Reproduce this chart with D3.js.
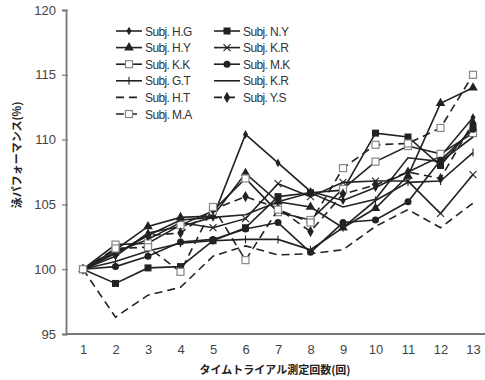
<!DOCTYPE html>
<html>
<head>
<meta charset="utf-8">
<script src="https://cdn.jsdelivr.net/npm/d3@7"></script>
<style>
  body { margin: 0; background: #fff; }
  svg { font-family: "Liberation Sans", Arial, sans-serif; }
</style>
</head>
<body>
<svg id="chart" width="485" height="380"></svg>
<script>
// trial numbers and y ticks
const trials = [1, 2, 3, 4, 5, 6, 7, 8, 9, 10, 11, 12, 13];
const yTicks = [95, 100, 105, 110, 115, 120];

// values (%)
const hg  = [100, 101.0, 102.8, 103.3, 104.0, 110.4, 108.2, 106.0, 105.3, 106.3, 107.5, 108.7, 111.7];
const ny  = [100, 98.9, 100.1, 100.2, 102.2, 103.2, 105.6, 105.9, 106.1, 110.5, 110.2, 108.0, 111.0];
const hy  = [100, 101.5, 103.3, 104.0, 104.1, 107.4, 105.2, 104.8, 103.2, 104.7, 107.2, 112.8, 114.0];
const kr  = [100, 101.3, 102.3, 103.6, 103.2, 103.9, 106.6, 105.6, 106.7, 106.8, 106.8, 104.3, 107.3];
const kk  = [100, 101.9, 102.0, 103.4, 104.5, 107.0, 104.4, 103.8, 106.2, 108.3, 109.5, 108.9, 110.5];
const mk  = [100, 100.2, 101.0, 102.1, 102.3, 103.1, 103.6, 101.3, 103.6, 103.8, 105.2, 108.4, 110.8];
const gt  = [100, 100.6, 101.4, 102.0, 102.2, 102.3, 102.3, 101.5, 103.2, 105.3, 106.7, 106.8, 109.0];
const kr2 = [100, 101.2, 102.6, 103.8, 104.0, 104.2, 105.2, 105.9, 104.8, 105.4, 108.6, 108.3, 110.2];
const ht  = [100, 96.3, 98.0, 98.6, 101.0, 101.8, 101.1, 101.2, 101.5, 103.3, 104.6, 103.2, 105.1];
const ys  = [100, 101.3, 102.6, 102.8, 104.6, 105.6, 104.7, 102.9, 105.8, 106.5, 107.5, 107.0, 111.3];
const ma  = [100, 101.6, 101.7, 99.8, 104.8, 100.7, 104.6, 103.6, 107.8, 109.6, 109.7, 110.9, 115.0];

const series = [
  { name: "Subj. H.G", values: hg,  dash: null,  marker: "diamondSmall" },
  { name: "Subj. N.Y", values: ny,  dash: null,  marker: "square" },
  { name: "Subj. H.Y", values: hy,  dash: null,  marker: "triangle" },
  { name: "Subj. K.R", values: kr,  dash: null,  marker: "cross" },
  { name: "Subj. K.K", values: kk,  dash: null,  marker: "openSquare" },
  { name: "Subj. M.K", values: mk,  dash: null,  marker: "circle" },
  { name: "Subj. G.T", values: gt,  dash: null,  marker: "plus" },
  { name: "Subj. K.R", values: kr2, dash: null,  marker: null },
  { name: "Subj. H.T", values: ht,  dash: "8,5", marker: null },
  { name: "Subj. Y.S", values: ys,  dash: "8,5", marker: "diamond" },
  { name: "Subj. M.A", values: ma,  dash: "8,5", marker: "openSquare" }
];

const svg = d3.select("#chart");
const ink = "#222";
const margin = { left: 66, top: 10, right: 485, bottom: 334 };

const x = d3.scalePoint().domain(trials).range([83, 473]);
const y = d3.scaleLinear().domain([95, 120]).range([margin.bottom, margin.top]);

// axes
const yAxis = svg.append("g")
  .attr("transform", `translate(${margin.left},0)`)
  .call(d3.axisLeft(y).tickValues(yTicks).tickSize(4).tickPadding(6));
yAxis.select(".domain").attr("stroke", "#777").attr("stroke-width", 1.8);
yAxis.selectAll(".tick line").attr("stroke", "#777").attr("stroke-width", 1.2)
  .attr("x2", 2).attr("x1", -4);
yAxis.selectAll(".tick text").attr("font-size", 13).attr("fill", "#444")
  .attr("font-family", "Liberation Sans, Arial, sans-serif");

const xAxis = svg.append("g")
  .attr("transform", `translate(0,${margin.bottom})`)
  .call(d3.axisBottom(x).tickSize(0).tickPadding(11));
xAxis.select(".domain").attr("d", `M${margin.left},0H${margin.right}`)
  .attr("stroke", "#777").attr("stroke-width", 1.8);
xAxis.selectAll(".tick text").attr("font-size", 13).attr("fill", "#444")
  .attr("font-family", "Liberation Sans, Arial, sans-serif");

// axis titles
svg.append("text")
  .attr("transform", "translate(21,155) rotate(-90)")
  .attr("text-anchor", "middle")
  .attr("font-family", "Noto Sans CJK JP")
  .attr("font-weight", "bold").attr("font-size", 11).attr("fill", "#222")
  .text("泳パフォーマンス(%)");

svg.append("text")
  .attr("x", 275).attr("y", 374)
  .attr("text-anchor", "middle")
  .attr("font-family", "Noto Sans CJK JP")
  .attr("font-weight", "bold").attr("font-size", 11).attr("fill", "#222")
  .text("タイムトライアル測定回数(回)");

// markers
function drawMarker(g, type, cx, cy) {
  if (!type) return;
  if (type === "square") {
    g.append("rect").attr("x", cx - 3.5).attr("y", cy - 3.5).attr("width", 7).attr("height", 7).attr("fill", ink);
  } else if (type === "openSquare") {
    g.append("rect").attr("x", cx - 3.5).attr("y", cy - 3.5).attr("width", 7).attr("height", 7)
      .attr("fill", "#fff").attr("stroke", "#888").attr("stroke-width", 1.2);
  } else if (type === "triangle") {
    g.append("path").attr("d", d3.symbol(d3.symbolTriangle, 40)()).attr("transform", `translate(${cx},${cy})`).attr("fill", ink);
  } else if (type === "circle") {
    g.append("circle").attr("cx", cx).attr("cy", cy).attr("r", 3.5).attr("fill", ink);
  } else if (type === "diamond") {
    g.append("path").attr("d", d3.symbol(d3.symbolDiamond, 36)()).attr("transform", `translate(${cx},${cy})`).attr("fill", ink);
  } else if (type === "diamondSmall") {
    g.append("path").attr("d", d3.symbol(d3.symbolDiamond, 22)()).attr("transform", `translate(${cx},${cy})`).attr("fill", ink);
  } else if (type === "cross") {
    g.append("path").attr("d", `M${cx - 3.5},${cy - 3.5}L${cx + 3.5},${cy + 3.5}M${cx - 3.5},${cy + 3.5}L${cx + 3.5},${cy - 3.5}`)
      .attr("stroke", ink).attr("stroke-width", 1.1);
  } else if (type === "plus") {
    g.append("path").attr("d", `M${cx},${cy - 4}V${cy + 4}`).attr("stroke", ink).attr("stroke-width", 1.1);
  }
}

const line = d3.line().x((d, i) => x(trials[i])).y(d => y(d));

series.forEach(s => {
  const g = svg.append("g");
  g.append("path")
    .attr("d", line(s.values))
    .attr("fill", "none").attr("stroke", ink).attr("stroke-width", 1.6)
    .attr("stroke-dasharray", s.dash);
  s.values.forEach((v, i) => drawMarker(g, s.marker, x(trials[i]), y(v)));
});

// legend, two columns
const legend = svg.append("g");
series.forEach((s, i) => {
  const col = i % 2, row = Math.floor(i / 2);
  const lx = col === 0 ? 116 : 214;
  const ly = 31 + row * 16.6;
  const g = legend.append("g");
  g.append("line").attr("x1", lx).attr("x2", lx + 26).attr("y1", ly).attr("y2", ly)
    .attr("stroke", ink).attr("stroke-width", 1.6).attr("stroke-dasharray", s.dash);
  drawMarker(g, s.marker, lx + 13, ly);
  g.append("text").attr("x", lx + 29).attr("y", ly + 4.5)
    .attr("font-size", 12).attr("fill", "#333").attr("letter-spacing", -0.6)
    .text(s.name);
});
</script>
</body>
</html>
